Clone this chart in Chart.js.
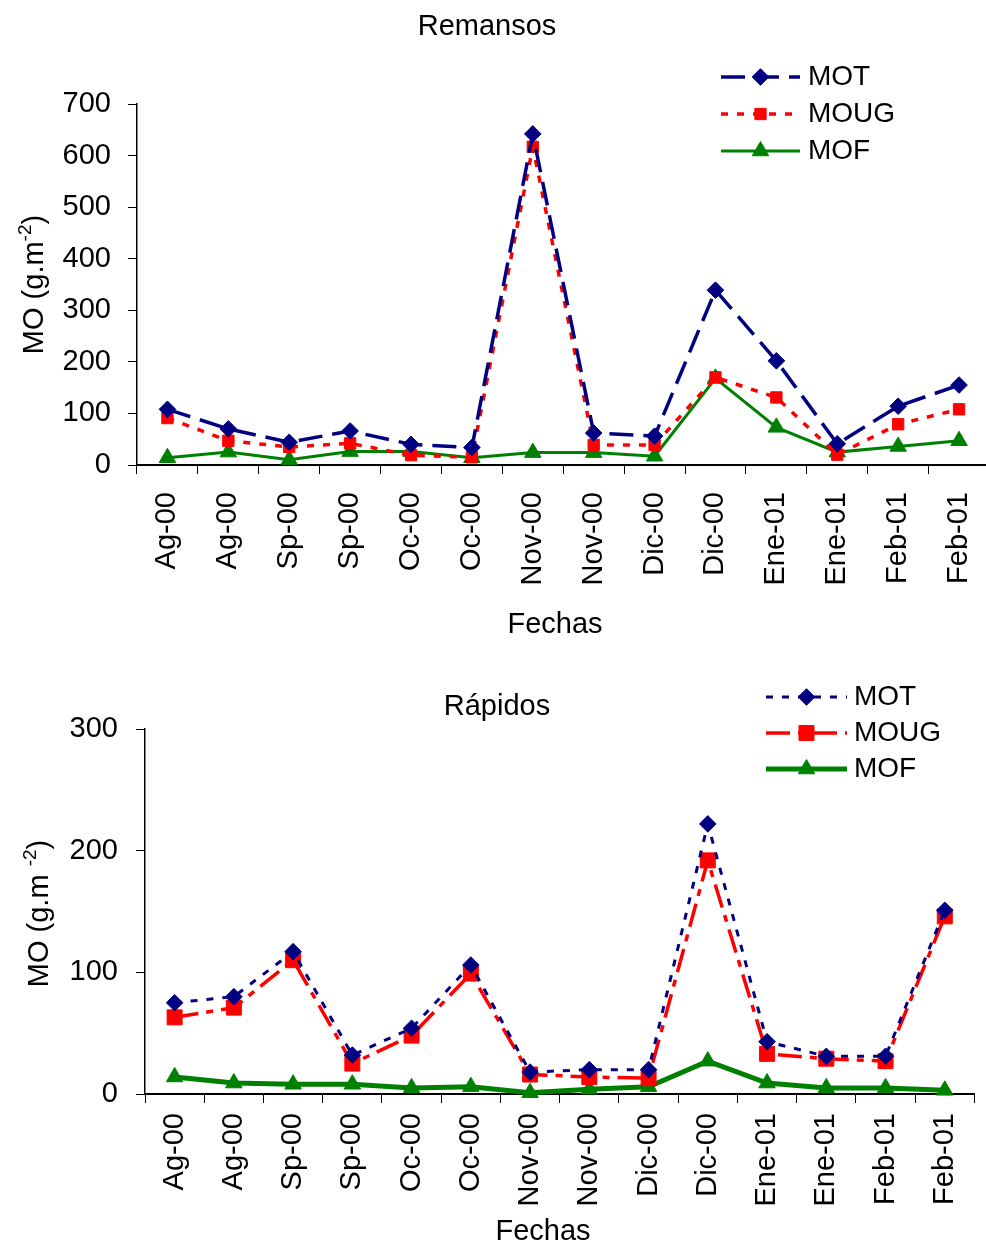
<!DOCTYPE html>
<html>
<head>
<meta charset="utf-8">
<script src="https://cdn.jsdelivr.net/npm/chart.js@4/dist/chart.umd.min.js"></script>
<style>
  html, body { margin: 0; padding: 0; background: #fff; overflow: hidden; }
  #page { position: relative; width: 986px; height: 1244px; overflow: hidden; background: #fff; }
  #remansos { position: absolute; left: 0; top: 0; }
  #rapidos { position: absolute; left: 0; top: 640px; }
</style>
</head>
<body>
<div id="page">
  <canvas id="remansos" width="1000" height="640"></canvas>
  <canvas id="rapidos" width="986" height="604"></canvas>
</div>
<script>
// Sampling dates (two samplings per month)
const categories = ['Ag-00', 'Ag-00', 'Sp-00', 'Sp-00', 'Oc-00', 'Oc-00', 'Nov-00', 'Nov-00',
                    'Dic-00', 'Dic-00', 'Ene-01', 'Ene-01', 'Feb-01', 'Feb-01'];

// Organic matter, pools (Remansos), g.m-2
const remansosMOT  = [108, 70, 44, 66, 40, 34, 642, 62, 56, 339, 202, 41, 114, 155];
const remansosMOUG = [91, 47, 35, 42, 19, 15, 617, 39, 39, 170, 131, 20, 79, 108];
const remansosMOF  = [14, 25, 10, 26, 26, 14, 24, 24, 17, 168, 73, 25, 36, 47];

// Organic matter, riffles (Rápidos), g.m-2
const rapidosMOT  = [75, 80, 117, 32, 54, 106, 18, 20, 20, 222, 43, 31, 31, 151];
const rapidosMOUG = [63, 71, 110, 25, 48, 99, 16, 14, 13, 192, 33, 29, 27, 146];
const rapidosMOF  = [14, 9, 8, 8, 5, 6, 1, 4, 6, 27, 9, 5, 5, 3];

const seriesNames = ['MOT', 'MOUG', 'MOF'];
const remansosYMax = 700;
const rapidosYMax = 300;

const FONT = "'Liberation Sans', Arial, Helvetica, sans-serif";
const NAVY = '#000080', RED = '#FF0000', GREEN = '#008000';

function drawMarker(ctx, style, r, x, y, color) {
  ctx.save();
  ctx.fillStyle = color;
  ctx.strokeStyle = color;
  ctx.lineWidth = 1;
  ctx.setLineDash([]);
  if (Chart.helpers && Chart.helpers.drawPoint) {
    Chart.helpers.drawPoint(ctx, { pointStyle: style, radius: r, borderWidth: 1, rotation: 0 }, x, y);
  } else {
    ctx.beginPath();
    if (style === 'rectRot') {
      ctx.moveTo(x - r, y); ctx.lineTo(x, y - r); ctx.lineTo(x + r, y); ctx.lineTo(x, y + r);
    } else if (style === 'rect') {
      const s = r * Math.SQRT1_2;
      ctx.rect(x - s, y - s, 2 * s, 2 * s);
    } else {
      ctx.moveTo(x, y - r);
      ctx.lineTo(x + r * Math.sin(2 * Math.PI / 3), y + r / 2);
      ctx.lineTo(x - r * Math.sin(2 * Math.PI / 3), y + r / 2);
    }
    ctx.closePath();
    ctx.fill();
    ctx.stroke();
  }
  ctx.restore();
}

// Titles, axis titles and the in-plot legend
function decorations(cfg) {
  return {
    id: 'decorations',
    afterDraw(chart) {
      const ctx = chart.ctx;
      const area = chart.chartArea;
      ctx.save();
      ctx.fillStyle = '#000';
      ctx.textBaseline = 'alphabetic';

      // chart title
      ctx.font = '29px ' + FONT;
      ctx.textAlign = 'center';
      ctx.fillText(cfg.title, cfg.titleX, cfg.titleY);

      // x axis title
      ctx.fillText('Fechas', cfg.xTitleX, cfg.xTitleY);

      // y axis title with superscript
      ctx.textAlign = 'left';
      const mainFont = '29px ' + FONT, supFont = '19px ' + FONT;
      ctx.font = mainFont;
      const wMain = ctx.measureText(cfg.yMain).width;
      const wClose = ctx.measureText(')').width;
      ctx.font = supFont;
      const wSup = ctx.measureText('-2').width;
      const total = wMain + wSup + wClose;
      const cy = (area.top + area.bottom) / 2 + cfg.yTitleShift;
      ctx.save();
      ctx.translate(cfg.yTitleX, cy + total / 2);
      ctx.rotate(-Math.PI / 2);
      ctx.font = mainFont;
      ctx.fillText(cfg.yMain, 0, 0);
      ctx.font = supFont;
      ctx.fillText('-2', wMain, -12);
      ctx.font = mainFont;
      ctx.fillText(')', wMain + wSup, 0);
      ctx.restore();

      // legend
      chart.data.datasets.forEach((ds, i) => {
        const y = cfg.legendY + i * cfg.legendGap;
        ctx.save();
        ctx.strokeStyle = ds.borderColor;
        ctx.lineWidth = ds.borderWidth;
        ctx.setLineDash(ds.borderDash || []);
        ctx.lineCap = 'butt';
        ctx.beginPath();
        ctx.moveTo(cfg.legendX0, y);
        ctx.lineTo(cfg.legendX1, y);
        ctx.stroke();
        ctx.restore();
        drawMarker(ctx, ds.pointStyle, ds.pointRadius, (cfg.legendX0 + cfg.legendX1) / 2, y, ds.borderColor);
        ctx.font = '28px ' + FONT;
        ctx.fillStyle = '#000';
        ctx.textAlign = 'left';
        ctx.fillText(ds.label, cfg.legendTextX, y + 8);
      });
      ctx.restore();
    }
  };
}

function series(label, data, color, width, dash, style, radius) {
  return {
    label, data,
    borderColor: color, backgroundColor: color,
    borderWidth: width, borderDash: dash,
    pointStyle: style, pointRadius: radius,
    pointBackgroundColor: color, pointBorderColor: color, pointBorderWidth: 1,
    fill: false, tension: 0, clip: false
  };
}

function makeOptions(yMax, pad, leftWidth, bottomHeight, tickPad) {
  const tickFont = { family: FONT, size: 29 };
  return {
    responsive: false,
    animation: false,
    devicePixelRatio: 1,
    layout: { padding: pad },
    plugins: { legend: { display: false }, title: { display: false }, tooltip: { enabled: false } },
    scales: {
      x: {
        type: 'category',
        offset: true,
        grid: { display: true, drawOnChartArea: false, drawTicks: true, tickLength: 9, color: '#000', lineWidth: 1, offset: true },
        border: { display: true, color: '#000', width: 2 },
        ticks: { autoSkip: false, minRotation: 90, maxRotation: 90, color: '#000', font: tickFont, padding: tickPad.x },
        afterFit(s) { s.height = bottomHeight; s.paddingLeft = 0; s.paddingRight = 0; }
      },
      y: {
        min: 0, max: yMax,
        grid: { display: true, drawOnChartArea: false, drawTicks: true, tickLength: 9, color: '#000', lineWidth: 1 },
        border: { display: true, color: '#000', width: 1.5 },
        ticks: { stepSize: 100, color: '#000', font: tickFont, padding: tickPad.y },
        afterFit(s) { s.width = leftWidth; }
      }
    }
  };
}

new Chart(document.getElementById('remansos'), {
  type: 'line',
  data: {
    labels: categories,
    datasets: [
      series(seriesNames[0], remansosMOT, NAVY, 3.5, [24, 10], 'rectRot', 8.3),
      series(seriesNames[1], remansosMOUG, RED, 3.5, [7, 9], 'rect', 8),
      series(seriesNames[2], remansosMOF, GREEN, 3, [], 'triangle', 9.5)
    ]
  },
  options: makeOptions(remansosYMax, { top: 104, right: 5, bottom: 0, left: 0 }, 137, 175, { x: 18, y: 17 }),
  plugins: [decorations({
    title: 'Remansos', titleX: 487, titleY: 35,
    xTitleX: 555, xTitleY: 633,
    yMain: 'MO (g.m', yTitleX: 43, yTitleShift: 0,
    legendX0: 721, legendX1: 800, legendY: 77, legendGap: 37, legendTextX: 808
  })]
});

new Chart(document.getElementById('rapidos'), {
  type: 'line',
  data: {
    labels: categories,
    datasets: [
      series(seriesNames[0], rapidosMOT, NAVY, 3, [7, 9], 'rectRot', 8.3),
      series(seriesNames[1], rapidosMOUG, RED, 3.5, [24, 8, 7, 8], 'rect', 10.6),
      series(seriesNames[2], rapidosMOF, GREEN, 5, [], 'triangle', 9.5)
    ]
  },
  options: makeOptions(rapidosYMax, { top: 89, right: 10, bottom: 0, left: 0 }, 145, 150, { x: 10, y: 18 }),
  plugins: [decorations({
    title: 'Rápidos', titleX: 497, titleY: 75,
    xTitleX: 543, xTitleY: 600,
    yMain: 'MO (g.m ', yTitleX: 48, yTitleShift: 2,
    legendX0: 766, legendX1: 847, legendY: 57, legendGap: 36, legendTextX: 854
  })]
});
</script>
</body>
</html>
